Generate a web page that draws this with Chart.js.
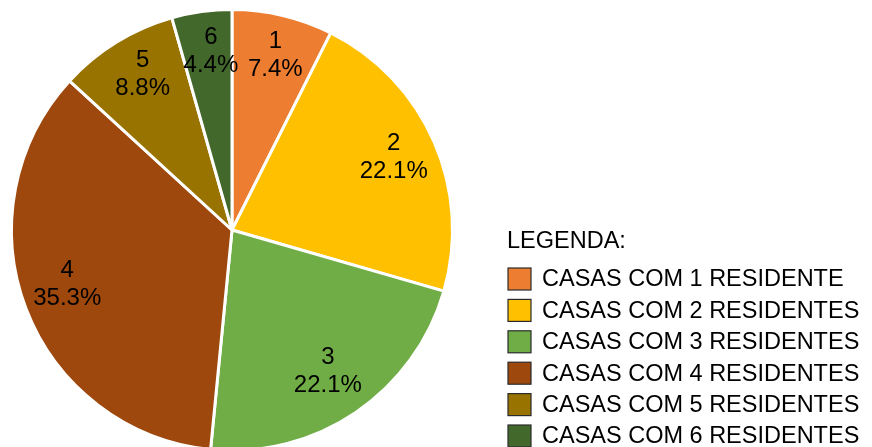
<!DOCTYPE html>
<html>
<head>
<meta charset="utf-8">
<script src="https://cdn.jsdelivr.net/npm/chart.js@4.4.1/dist/chart.umd.min.js"></script>
<style>
  html, body { margin: 0; padding: 0; background: #fff; overflow: hidden; }
  #wrap { position: absolute; left: 0; top: 0; width: 872px; height: 460px; }
</style>
</head>
<body>
<div id="wrap"><canvas id="c" width="872" height="460"></canvas></div>
<script>
// ---- data ----
const sliceNumbers = ['1', '2', '3', '4', '5', '6'];
const legendNames = [
  'CASAS COM 1 RESIDENTE',
  'CASAS COM 2 RESIDENTES',
  'CASAS COM 3 RESIDENTES',
  'CASAS COM 4 RESIDENTES',
  'CASAS COM 5 RESIDENTES',
  'CASAS COM 6 RESIDENTES'
];
const percentages = [7.4, 22.1, 22.1, 35.3, 8.8, 4.4];
const sliceColors = ['#ED7D31', '#FFC000', '#70AD47', '#9E480E', '#997300', '#43682B'];
const legendTitle = 'LEGENDA:';

const FONT = '"Liberation Sans", Arial, Helvetica, sans-serif';

const sliceLabelPlugin = {
  id: 'sliceLabels',
  afterDatasetsDraw(chart) {
    const ctx = chart.ctx;
    const meta = chart.getDatasetMeta(0);
    ctx.save();
    ctx.font = '24px ' + FONT;
    ctx.fillStyle = '#000';
    ctx.textAlign = 'center';
    ctx.textBaseline = 'middle';
    meta.data.forEach((arc, i) => {
      const p = arc.getProps(['x', 'y', 'startAngle', 'endAngle', 'outerRadius'], true);
      const mid = (p.startAngle + p.endAngle) / 2 + Math.PI / 180;
      const r = p.outerRadius * 0.795;
      const x = p.x + Math.cos(mid) * r;
      const y = p.y + Math.sin(mid) * r - 5;
      ctx.fillText(sliceNumbers[i], x, y - 14);
      ctx.fillText(percentages[i].toFixed(1) + '%', x, y + 14);
    });
    ctx.restore();
  }
};

const legendPlugin = {
  id: 'customLegend',
  afterDraw(chart) {
    const ctx = chart.ctx;
    ctx.save();
    ctx.font = '23.5px ' + FONT;
    ctx.fillStyle = '#000';
    ctx.textAlign = 'left';
    ctx.textBaseline = 'middle';
    ctx.fillText(legendTitle, 507, 242);
    const colors = chart.data.datasets[0].backgroundColor;
    chart.data.labels.forEach((name, i) => {
      const cy = 279 + i * 31.4;
      ctx.fillStyle = colors[i];
      ctx.fillRect(508, cy - 11, 23, 22);
      ctx.strokeStyle = '#2b2b2b';
      ctx.lineWidth = 1.2;
      ctx.strokeRect(508, cy - 11, 23, 22);
      ctx.fillStyle = '#000';
      ctx.fillText(name, 542, cy + 1);
    });
    ctx.restore();
  }
};

new Chart(document.getElementById('c'), {
  type: 'pie',
  data: {
    labels: legendNames,
    datasets: [{
      data: percentages,
      backgroundColor: sliceColors,
      borderColor: '#ffffff',
      borderWidth: 3
    }]
  },
  options: {
    responsive: false,
    animation: false,
    radius: 220.5,
    layout: { padding: { left: 12, right: 420, top: 10, bottom: 10 } },
    plugins: {
      legend: { display: false },
      tooltip: { enabled: false },
      title: { display: false }
    }
  },
  plugins: [sliceLabelPlugin, legendPlugin]
});
</script>
</body>
</html>
